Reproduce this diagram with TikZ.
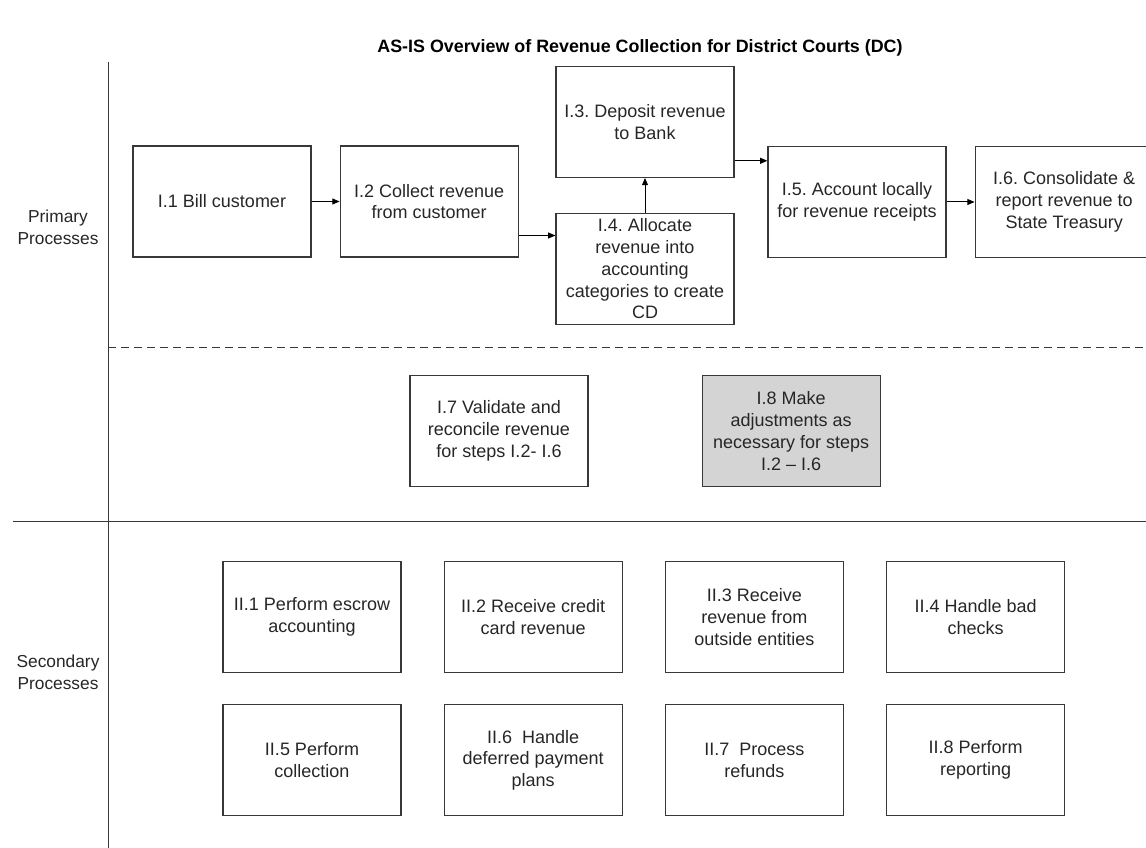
\documentclass[tikz,border=0pt]{standalone}
\usepackage{fontspec}
\setmainfont{Liberation Sans}
\usepackage{xcolor}
\usepackage{tikz}
\usetikzlibrary{arrows.meta,positioning,calc}
\frenchspacing
\definecolor{gFill}{gray}{0.83}
\definecolor{gLine}{gray}{0.22}
\definecolor{gText}{gray}{0.15}
\tikzset{
  box/.style={rectangle, draw=gLine, line width=0.9pt, align=center, minimum width=133.5pt, minimum height=83.25pt, inner xsep=2pt, inner ysep=0.5pt, text=gText, font=\fontsize{13.5}{16.3}\selectfont},
  arrow/.style={-{Triangle[length=5.5pt,width=4.5pt]}, line width=0.75pt, draw=black},
  lane/.style={line width=0.75pt, draw=gLine},
  lanelabel/.style={align=center, text=gText, font=\fontsize{13}{16.3}\selectfont}
}
\begin{document}
\begin{tikzpicture}[x=0.75pt, y=-0.75pt, node distance=21pt]
  \useasboundingbox (0,0) rectangle (1146,848);
  \node[font=\bfseries\fontsize{13.4}{16}\selectfont] (title) at (640,48) {AS-IS Overview of Revenue Collection for District Courts (DC)};
  % lanes
  \draw[lane] (108,62) -- (108,848);
  \draw[lane] (13,521) -- (1146,521);
  \draw[lane, dashed, dash pattern=on 6pt off 3.75pt] (108,348) -- (1146,348);
  \node[lanelabel] (prim) at (58,227) {Primary\\Processes};
  \node[lanelabel] (sec) at (58,672) {Secondary\\Processes};
  % primary processes
  \node[box] (bill) at (222,201.5) {I.1 Bill customer};
  \node[box, right=of bill] (coll) {I.2 Collect revenue\\from customer};
  \node[box] (alloc) at (645,269) {I.4. Allocate\\revenue into\\accounting\\categories to create\\CD};
  \node[box, above=26.25pt of alloc] (dep) {I.3. Deposit revenue\\to Bank};
  \node[box] (acct) at (857,202) {I.5. Account locally\\for revenue receipts};
  \node[box, right=of acct] (cons) {I.6. Consolidate \&\\report revenue to\\State Treasury};
  \node[box] (val) at (499,431) {I.7 Validate and\\reconcile revenue\\for steps I.2- I.6};
  \node[box, fill=gFill, right=84.75pt of val] (adj) {I.8 Make\\adjustments as\\necessary for steps\\I.2 -- I.6};
  \draw[arrow] (bill) -- (coll);
  \draw[arrow] ([yshift=-25.5pt]coll.east) -- ([yshift=-25.5pt]coll.east -| alloc.west);
  \draw[arrow] (alloc) -- (dep);
  \draw[arrow] ([yshift=-29.25pt]dep.east) -- ([yshift=-29.25pt]dep.east -| acct.west);
  \draw[arrow] (acct) -- (cons);
  % secondary processes
  \node[box] (esc) at (312,617) {II.1 Perform escrow\\accounting};
  \node[box, right=31.5pt of esc] (card) {II.2 Receive credit\\card revenue};
  \node[box, right=31.5pt of card] (outs) {II.3 Receive\\revenue from\\outside entities};
  \node[box, right=31.5pt of outs] (chk) {II.4 Handle bad\\checks};
  \node[box, below=23.25pt of esc] (colc) {II.5 Perform\\collection};
  \node[box, right=31.5pt of colc] (defr) {II.6\ \ Handle\\deferred payment\\plans};
  \node[box, right=31.5pt of defr] (ref) {II.7\ \ Process\\refunds};
  \node[box, right=31.5pt of ref] (rep) {II.8 Perform\\reporting};
\end{tikzpicture}
\end{document}
